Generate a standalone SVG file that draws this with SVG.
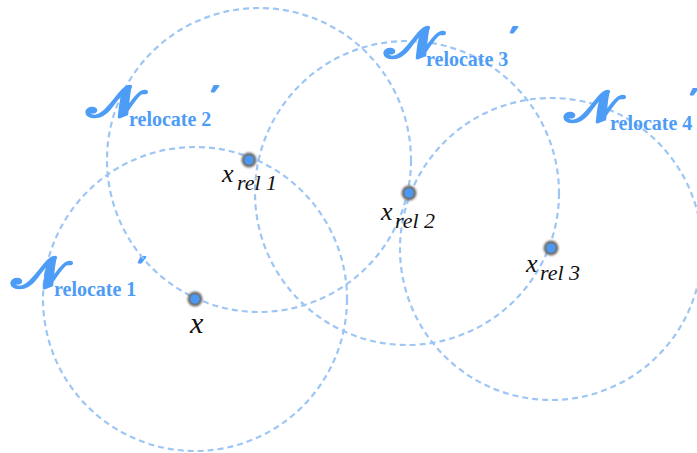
<svg xmlns="http://www.w3.org/2000/svg" width="697" height="453" viewBox="0 0 697 453">
  <defs>
    <filter id="soft" x="-50%" y="-50%" width="200%" height="200%">
      <feGaussianBlur stdDeviation="0.9"/>
    </filter>
    <filter id="softline" x="-10%" y="-10%" width="120%" height="120%">
      <feGaussianBlur stdDeviation="0.4"/>
    </filter>
  </defs>
  <style>
    .ring { fill: none; stroke: #9ec6f4; stroke-width: 2.2; stroke-dasharray: 6 4; }
    .cal { font-family: "DejaVu Sans", "Noto Sans", serif; font-size: 42px; fill: #4d9cf6; stroke: #4d9cf6; stroke-width: 2.6; stroke-linejoin: round; }
    .sub { font-family: "Liberation Serif", serif; font-weight: bold; font-size: 20px; fill: #4d9cf6; }
    .prime { font-family: "DejaVu Sans", sans-serif; font-weight: bold; font-size: 30px; fill: #4d9cf6; stroke: #4d9cf6; stroke-width: 1.8; stroke-linejoin: round; }
    .var { font-family: "Liberation Serif", serif; font-style: italic; fill: #111; }
    .halo { fill: #6a6a6a; filter: url(#soft); }
    .dot { fill: #4c97f0; }
  </style>

  <g id="n-relocate-1">
    <circle class="ring" cx="195" cy="299" r="152" filter="url(#softline)"/>
    <text class="cal" transform="translate(12,288) scale(1.3,1.05)">𝒩</text>
    <text class="sub" x="54" y="296">relocate 1</text>
    <text class="prime" x="138" y="279">′</text>
  </g>

  <g id="n-relocate-2">
    <circle class="ring" cx="259" cy="160" r="152" filter="url(#softline)"/>
    <text class="cal" transform="translate(87,117) scale(1.3,1.05)">𝒩</text>
    <text class="sub" x="129" y="126">relocate 2</text>
    <text class="prime" x="211" y="108">′</text>
  </g>

  <g id="n-relocate-3">
    <circle class="ring" cx="407" cy="193" r="152" filter="url(#softline)"/>
    <text class="cal" transform="translate(385,58) scale(1.3,1.05)">𝒩</text>
    <text class="sub" x="426" y="66">relocate 3</text>
    <text class="prime" x="510" y="49">′</text>
  </g>

  <g id="n-relocate-4">
    <circle class="ring" cx="551" cy="249" r="151" filter="url(#softline)"/>
    <text class="cal" transform="translate(565,122) scale(1.3,1.05)">𝒩</text>
    <text class="sub" x="610" y="130">relocate 4</text>
    <text class="prime" x="690" y="111">′</text>
  </g>

  <g id="p-x">
    <circle class="halo" cx="195" cy="299" r="7.5"/>
    <circle class="dot" cx="195" cy="299" r="4.8"/>
    <text class="var" x="190" y="333" font-size="30">x</text>
  </g>

  <g id="p-xrel1">
    <circle class="halo" cx="249" cy="160" r="7.5"/>
    <circle class="dot" cx="249" cy="160" r="4.8"/>
    <text class="var" x="222" y="182" font-size="26">x</text>
    <text class="var" x="237" y="190" font-size="22">rel 1</text>
  </g>

  <g id="p-xrel2">
    <circle class="halo" cx="409" cy="193" r="7.5"/>
    <circle class="dot" cx="409" cy="193" r="4.8"/>
    <text class="var" x="381" y="220" font-size="26">x</text>
    <text class="var" x="395" y="228" font-size="22">rel 2</text>
  </g>

  <g id="p-xrel3">
    <circle class="halo" cx="551" cy="248" r="7.5"/>
    <circle class="dot" cx="551" cy="248" r="4.8"/>
    <text class="var" x="526" y="272" font-size="26">x</text>
    <text class="var" x="540" y="280" font-size="22">rel 3</text>
  </g>
</svg>
